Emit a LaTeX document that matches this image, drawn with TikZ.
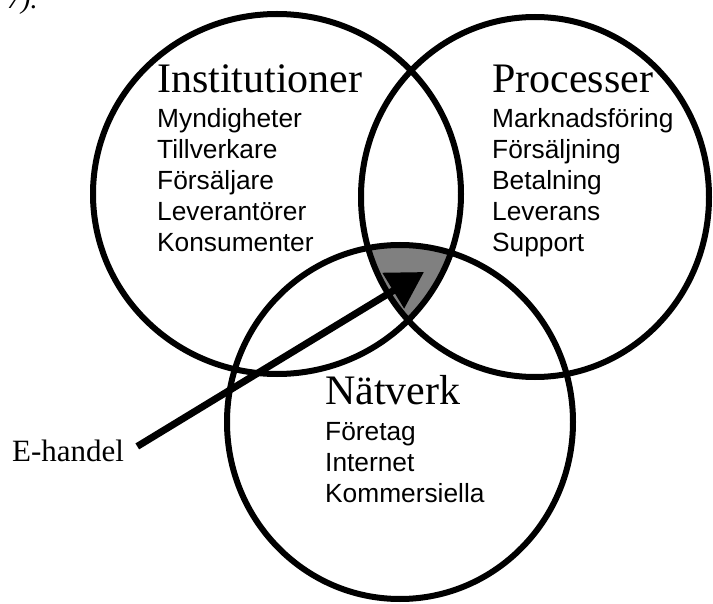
\documentclass[tikz,border=0pt]{standalone}
\usepackage{fontspec}
\setmainfont{Liberation Serif}
\setsansfont{Liberation Sans}
\usetikzlibrary{arrows.meta}
\begin{document}
\begin{tikzpicture}[x=1pt,y=-1pt,
  ring/.style={line width=6pt},
  heading/.style={anchor=base west,inner sep=0pt,font=\fontsize{42}{48}\selectfont},
  item/.style={anchor=base west,inner sep=0pt,font=\sffamily\fontsize{26.3}{30}\selectfont},
  label/.style={anchor=base west,inner sep=0pt,font=\fontsize{31}{36}\selectfont},
  pointer/.style={line width=7pt,-{Triangle[length=36pt,width=40pt]}}]
\useasboundingbox (0,0) rectangle (713,604);

% shaded region common to all three sets
\begin{scope}
  \clip (277,194) ellipse [x radius=184pt, y radius=180pt];
  \clip (535,197) ellipse [x radius=174pt, y radius=180pt];
  \fill[black!50] (400,422) ellipse [x radius=173pt, y radius=177pt];
\end{scope}

% the three sets
\draw[ring] (277,194) ellipse [x radius=184pt, y radius=180pt];
\draw[ring] (535,197) ellipse [x radius=174pt, y radius=180pt];
\draw[ring] (400,422) ellipse [x radius=173pt, y radius=177pt];

% footnote mark of the caption above
\node[anchor=base west,inner sep=0pt,font=\itshape\fontsize{28}{30}\selectfont] (fn) at (7,9) {7).};

% headings
\node[heading] (inst) at (157,93) {Institutioner};
\node[heading] (proc) at (492,93) {Processer};
\node[heading] (natv) at (325,405) {Nätverk};

% members of each set
\foreach \t [count=\i] in {Myndigheter,Tillverkare,Försäljare,Leverantörer,Konsumenter}
  \node[item] (inst-\i) at (157,128+31*\i-31) {\t};
\foreach \t [count=\i] in {Marknadsföring,Försäljning,Betalning,Leverans,Support}
  \node[item] (proc-\i) at (492,128+31*\i-31) {\t};
\foreach \t [count=\i] in {Företag,Internet,Kommersiella}
  \node[item] (natv-\i) at (325,440+31*\i-31) {\t};

% pointer to the common region
\node[label] (eh) at (12,461) {E-handel};
\coordinate (tip) at (424,272);
\draw[pointer] ([xshift=13pt,yshift=4pt]eh.east) -- (tip);
\end{tikzpicture}
\end{document}
